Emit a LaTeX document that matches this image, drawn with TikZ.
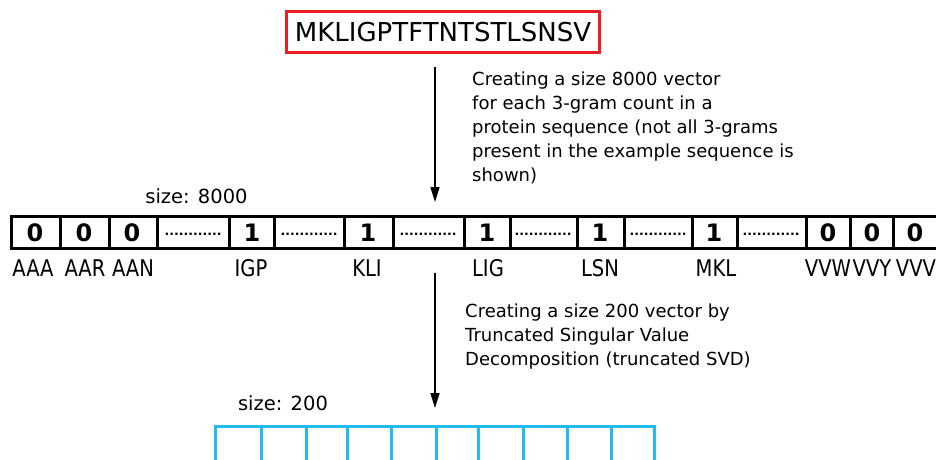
\documentclass[tikz,border=0pt]{standalone}
\usepackage{fontspec}
\setmainfont{DejaVu Sans}
\newfontfamily\condfont{DejaVu Sans}[FakeStretch=0.85]
\usetikzlibrary{arrows.meta}
\definecolor{seqred}{RGB}{237,28,36}
\definecolor{vecblue}{RGB}{34,187,238}
\begin{document}
\begin{tikzpicture}[x=1pt,y=-1pt,
  lbl/.style={font=\fontsize{19.5}{22}\selectfont, inner sep=0},
  gram/.style={font=\condfont\fontsize{23}{26}\selectfont, inner sep=0},
  num/.style={font=\fontsize{24}{26}\selectfont\bfseries, inner sep=0},
  dotfill/.style={font=\fontsize{12.5}{16}\selectfont\bfseries, inner sep=0, anchor=base},
  para/.style={font=\fontsize{18}{24}\selectfont, align=left, inner sep=0, anchor=north west},
  flow/.style={line width=1.5pt, -{Triangle[length=15pt,width=9pt]}},
  cellline/.style={line width=3pt},
  blueline/.style={line width=3pt, draw=vecblue},
  ]
\useasboundingbox (0,0) rectangle (936,459);
\clip (0,0) rectangle (936,459);
% sequence box
\node[draw=seqred, line width=3pt, minimum width=313pt, minimum height=41pt, inner sep=0,
      font=\fontsize{26}{30}\selectfont] (seq) at (443,32) {MKLIGPTFTNTSTLSNSV};
% first arrow and text
\coordinate (a1s) at (435,67);
\coordinate (a1e) at (435,202);
\draw[flow] (a1s) -- (a1e);
\node[para] (txt1) at (472,71.3) {Creating a size 8000 vector\\for each 3-gram count in a\\protein sequence (not all 3-grams\\present in the example sequence is\\shown)};
% size 8000 vector
\node[lbl] (size8000) at (196.5,196) {size: 8000};
\draw[cellline] (11.5,216.5) rectangle (960,248.5);
\foreach \x in {60,109,157,229,274,344,393,464,510,577,624,692,737,806,850,893}
  \draw[cellline] (\x,216.5) -- (\x,248.5);
\foreach \x/\v/\n in {35/0/c1,84/0/c2,132/0/c3,252/1/c4,368/1/c5,487/1/c6,600/1/c7,714/1/c8,828/0/c9,872/0/c10,915/0/c11}
  \node[num] (\n) at (\x,233) {\v};
\foreach \x/\n in {193/d1,309/d2,428/d3,543/d4,658/d5,771/d6}
  \node[dotfill] (\n) at (\x,235) {............};
\foreach \x/\t in {33/AAA,85/AAR,133/AAN,251/IGP,367/KLI,488/LIG,600/LSN,716/MKL,828/VVW,872/VVY,916/VVV}
  \node[gram] (l\t) at (\x,268) {\t};
% second arrow and text
\coordinate (a2s) at (435,273);
\coordinate (a2e) at (435,408);
\draw[flow] (a2s) -- (a2e);
\node[para] (txt2) at (465,303.8) {Creating a size 200 vector by\\Truncated Singular Value\\Decomposition (truncated SVD)};
% size 200 vector
\node[lbl] (size200) at (283,403) {size: 200};
\draw[blueline] (215.5,470) -- (215.5,426.5) -- (654,426.5) -- (654,470);
\foreach \x in {261,306,347,391,436,478,523,567,611}
  \draw[blueline] (\x,426.5) -- (\x,470);
\end{tikzpicture}
\end{document}
